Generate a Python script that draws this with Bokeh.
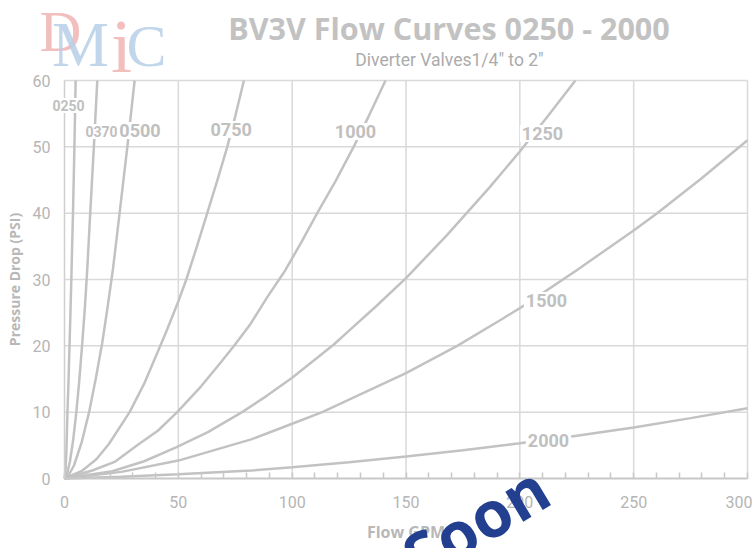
from bokeh.plotting import figure
from bokeh.models import Range1d, FixedTicker, Label
from bokeh.embed import file_html
from bokeh.resources import INLINE

# ---------------- data ----------------
series_names = ["0250", "0370", "0500", "0750", "1000", "1250", "1500", "2000"]

flow_0250 = [0, 0.4, 0.8, 1.3, 1.75, 2.2, 2.65, 3.1, 3.8, 4.35, 4.9]
psi_0250 = [0, 0.9, 3.8, 10, 14.5, 20, 25.5, 31.4, 41, 50, 60]

flow_0370 = [0, 1.2, 2.4, 3.8, 5.2, 6.5, 7.8, 9.0, 10.0, 11.3, 12.9, 14.4]
psi_0370 = [0, 0.8, 2.6, 5.8, 10, 14.8, 20.4, 26, 31.6, 40, 50, 60]

flow_0500 = [0, 2.0, 4.2, 7.5, 10.8, 13.7, 16.6, 19.0, 21.3, 24.2, 27.6, 30.8]
psi_0500 = [0, 0.6, 2.0, 5.4, 10, 15, 20.5, 26, 31.6, 40, 50, 60]

flow_0750 = [0, 7.9, 14, 19.5, 28.6, 35, 41.2, 45, 50, 53.5, 58, 62.7, 67, 71.5, 75, 78.8]
psi_0750 = [0, 1.2, 2.9, 5.2, 10, 14.3, 19.3, 22.4, 26.7, 30, 34.8, 40, 44.8, 50, 54.6, 60]

flow_1000 = [0, 12.2, 22, 32.7, 41, 49.5, 60, 67, 74.5, 81.7, 89, 97, 104, 111, 119,
             127, 134, 141]
psi_1000 = [0, 1.2, 2.5, 5.2, 7.2, 10, 13.9, 16.8, 20, 23.3, 27.3, 31.4, 35.6, 40, 44.8,
            50, 54.9, 60]

flow_1250 = [0, 21, 35, 49, 63, 78, 89, 100, 118.3, 125, 137, 150, 168, 187, 200, 212,
             224.4]
psi_1250 = [0, 1.1, 2.6, 4.7, 7.0, 10, 12.5, 15.2, 20.2, 22.3, 26, 30.2, 36.7, 44, 49.3,
            54.5, 60]

flow_1500 = [0, 25, 50, 82, 100, 113.2, 137, 150, 172.5, 191.5, 202, 225, 250, 260.3,
             280, 300]
psi_1500 = [0, 1.0, 2.7, 5.9, 8.25, 10, 13.8, 15.9, 20, 23.9, 26.1, 31.4, 37.4, 40,
            45.3, 51.0]

flow_2000 = [0, 25, 50, 82, 100, 125, 150, 175, 200, 225, 250, 275, 300]
psi_2000 = [0, 0.25, 0.65, 1.2, 1.7, 2.45, 3.3, 4.25, 5.3, 6.45, 7.7, 9.1, 10.6]

x_ticks = [0, 50, 100, 150, 200, 250, 300]
x_minor_ticks = [10, 20, 30, 40, 60, 70, 80, 90, 110, 120, 130, 140, 160, 170,
                 180, 190, 210, 220, 230, 240, 260, 270, 280, 290]
y_ticks = [0, 10, 20, 30, 40, 50, 60]

flows = [flow_0250, flow_0370, flow_0500, flow_0750, flow_1000, flow_1250, flow_1500, flow_2000]
psis = [psi_0250, psi_0370, psi_0500, psi_0750, psi_1000, psi_1250, psi_1500, psi_2000]

# ---------------- layout helpers (page pixel -> data) ----------------
W, H = 752, 548
FX0, FX1 = 64.0, 747.0   # page x of flow 0 / 300
FY0, FY1 = 478.0, 80.0   # page y of psi 0 / 60
XMIN, XMAX = x_ticks[0], x_ticks[-1]
YMIN, YMAX = y_ticks[0], y_ticks[-1]


def px2x(px):
    return XMIN + (px - FX0) / (FX1 - FX0) * (XMAX - XMIN)


def py2y(py):
    return YMIN + (FY0 - py) / (FY0 - FY1) * (YMAX - YMIN)


CURVE = "#c2c2c2"
GRID = "#d9d9d9"
TXT = "#c0c0c0"

# the frame fills the whole canvas; the axes sit at fixed data locations
p = figure(width=W, height=H, output_backend="svg", toolbar_location=None,
           x_range=Range1d(px2x(0), px2x(W)), y_range=Range1d(py2y(H), py2y(0)),
           min_border=0)
p.background_fill_color = "white"
p.border_fill_color = "white"
p.outline_line_color = None
p.xgrid.visible = False
p.ygrid.visible = False

# grid lines (and top / right frame) from the tick lists
vx = x_ticks[1:]
p.segment(x0=vx, y0=[YMIN] * len(vx), x1=vx, y1=[YMAX] * len(vx),
          line_color=GRID, line_width=1.5)
hy = y_ticks[1:]
p.segment(x0=[XMIN] * len(hy), y0=hy, x1=[XMAX] * len(hy), y1=hy,
          line_color=GRID, line_width=1.5)

# x axis
xa = p.xaxis[0]
xa.fixed_location = YMIN
xa.bounds = (XMIN, XMAX)
xa.ticker = FixedTicker(ticks=x_ticks, minor_ticks=x_minor_ticks)
xa.axis_line_color = "#c8c8c8"
xa.axis_line_width = 2
xa.major_tick_in = 6
xa.major_tick_out = 0
xa.minor_tick_in = 6
xa.minor_tick_out = 0
xa.major_tick_line_color = "#c8c8c8"
xa.minor_tick_line_color = "#c8c8c8"
xa.major_tick_line_width = 1.5
xa.minor_tick_line_width = 1.5
xa.major_label_standoff = 17
xa.axis_label = "Flow GPM"
xa.axis_label_standoff = 10

# y axis
ya = p.yaxis[0]
ya.fixed_location = XMIN
ya.bounds = (YMIN, YMAX)
ya.ticker = FixedTicker(ticks=y_ticks)
ya.axis_line_color = "#cfcfcf"
ya.axis_line_width = 1.5
ya.major_tick_in = 0
ya.major_tick_out = 0
ya.minor_tick_line_color = None
ya.major_label_standoff = 14
ya.axis_label = "Pressure Drop (PSI)"
ya.axis_label_standoff = 6

for ax in (xa, ya):
    ax.major_label_text_font = "Roboto"
    ax.major_label_text_font_size = "16px"
    ax.major_label_text_color = "#b5b5b5"
    ax.axis_label_text_font = "Open Sans"
    ax.axis_label_text_font_style = "bold"
    ax.axis_label_text_color = "#b8b8b8"
xa.axis_label_text_font_size = "16px"
ya.axis_label_text_font_size = "14px"

# curves
for fx, py in zip(flows, psis):
    p.line(fx, py, line_color=CURVE, line_width=2.5)

# curve labels (positions are layout, in page pixels)
label_pos = {
    "0250": (68, 105, 14), "0370": (101, 131, 14), "0500": (139.5, 130, 18),
    "0750": (230.7, 129, 18), "1000": (355, 131, 18), "1250": (542, 133, 18),
    "1500": (546, 300, 18), "2000": (548, 440, 18),
}
for name in series_names:
    lx, ly, fs = label_pos[name]
    p.add_layout(Label(x=px2x(lx), y=py2y(ly), text=name, text_align="center",
                       text_baseline="middle", text_font="Roboto",
                       text_font_style="bold", text_font_size=f"{fs}px",
                       text_color=TXT, background_fill_color="white", padding=2))

# title and subtitle
p.add_layout(Label(x=px2x(448.5), y=py2y(27.5), text="BV3V Flow Curves 0250 - 2000",
                   text_align="center", text_baseline="middle",
                   text_font="Open Sans", text_font_style="bold",
                   text_font_size="30.5px", text_color="#c2c2c2"))
p.add_layout(Label(x=px2x(449), y=py2y(59), text='Diverter Valves1/4" to 2"',
                   text_align="center", text_baseline="middle",
                   text_font="Roboto", text_font_size="17.5px", text_color="#ababab"))

# faded logo
logo = [("D", 60, 31, 58, "#f0b4b4"), ("M", 80, 44, 64, "#b7cfe7"),
        ("i", 121, 45, 76, "#f0b4b4"), ("C", 146, 45, 60, "#b7cfe7")]
for t, lx, ly, fs, col in logo:
    p.add_layout(Label(x=px2x(lx), y=py2y(ly), text=t, text_align="center",
                       text_baseline="middle", text_font="Liberation Serif",
                       text_font_size=f"{fs}px", text_color=col, text_alpha=0.85))

# "Coming Soon" stamp
p.add_layout(Label(x=px2x(542), y=py2y(481), text="Coming Soon", text_align="right",
                   text_baseline="alphabetic", angle=0.54, text_font="Open Sans",
                   text_font_style="bold", text_font_size="64px",
                   text_color="#22408f"))

open("out.html", "w").write(file_html(p, INLINE))
